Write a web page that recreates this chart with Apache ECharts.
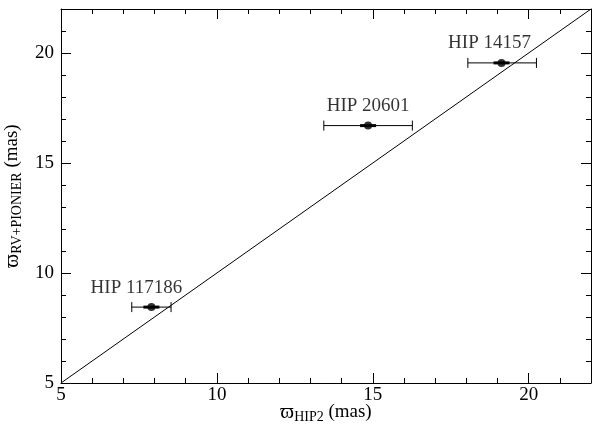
<!DOCTYPE html>
<html>
<head>
<meta charset="utf-8">
<script src="https://cdn.jsdelivr.net/npm/echarts@6/dist/echarts.min.js"></script>
<style>
  html, body { margin: 0; padding: 0; background: #fff; }
  #chart { width: 592px; height: 427px; }
</style>
</head>
<body>
<div id="chart"></div>
<script>
// star names and parallaxes (mas)
const stars = ['HIP 117186', 'HIP 20601', 'HIP 14157']
const plxHip = [7.9, 14.85, 19.13]
const plxHipLo = [7.27, 13.43, 18.05]
const plxHipHi = [8.53, 16.27, 20.25]
const plxOrbit = [8.45, 16.7, 19.55]
// one-to-one line
const diagonal = [[5, 5], [22, 22]]
const axisRange = [5, 22]

const font = '"Liberation Serif", "DejaVu Serif", serif'
// label nudges (style only)
const labelShift = [[-15, 0], [0, 0], [-12, 0]]

const chart = echarts.init(document.getElementById('chart'))

// builds one of the stacked axes: major ticks with labels, or minor ticks only
function makeAxis (dim, position, step, tickLen, labels, name) {
  const ax = {
    type: 'value',
    position: position,
    min: axisRange[0],
    max: axisRange[1],
    interval: step,
    splitLine: { show: false },
    axisLine: { show: labels || step === 5, onZero: false, lineStyle: { color: '#000', width: 1 } },
    axisTick: { show: true, inside: true, length: tickLen, lineStyle: { color: '#000', width: 1 } },
    axisLabel: {
      show: labels,
      color: '#000',
      fontFamily: font,
      fontSize: 19,
      margin: dim === 'x' ? 3 : 7,
      showMaxLabel: false
    }
  }
  if (name) {
    ax.name = name
    ax.nameLocation = 'middle'
    ax.nameMoveOverlap = false
    ax.nameGap = dim === 'x' ? 18 : 37
    ax.nameTextStyle = {
      color: '#000',
      fontFamily: font,
      fontSize: 19,
      rich: {
        w: { fontFamily: font, fontSize: 21, color: '#000' },
        s: { fontFamily: font, fontSize: 14, color: '#000', padding: [9, 0, 0, 0] },
        t: { fontFamily: font, fontSize: 19, color: '#000' }
      }
    }
  }
  return ax
}

const option = {
  backgroundColor: '#fff',
  animation: false,
  grid: { left: 61, right: 1, top: 9, bottom: 44, outerBoundsMode: 'none' },
  xAxis: [
    makeAxis('x', 'bottom', 5, 10, true, '{w|ϖ}{s|HIP2}{t| (mas)}'),
    makeAxis('x', 'bottom', 1, 5, false),
    makeAxis('x', 'top', 5, 10, false),
    makeAxis('x', 'top', 1, 5, false)
  ],
  yAxis: [
    makeAxis('y', 'left', 5, 10, true, '{w|ϖ}{s|RV+PIONIER}{t| (mas)}'),
    makeAxis('y', 'left', 1, 5, false),
    makeAxis('y', 'right', 5, 10, false),
    makeAxis('y', 'right', 1, 5, false)
  ],
  series: [
    {
      type: 'line',
      data: diagonal,
      symbol: 'none',
      lineStyle: { color: '#000', width: 1 },
      silent: true
    },
    {
      type: 'custom',
      data: stars.map((s, i) => [plxHip[i], plxOrbit[i], plxHipLo[i], plxHipHi[i]]),
      renderItem: function (params, api) {
        const y = api.value(1)
        const lo = api.coord([api.value(2), y])
        const hi = api.coord([api.value(3), y])
        const c = api.coord([api.value(0), y])
        const st = { stroke: '#000', lineWidth: 1 }
        return {
          type: 'group',
          children: [
            { type: 'line', shape: { x1: lo[0], y1: lo[1], x2: hi[0], y2: hi[1] }, style: st },
            { type: 'line', shape: { x1: lo[0], y1: lo[1] - 5, x2: lo[0], y2: lo[1] + 5 }, style: st },
            { type: 'line', shape: { x1: hi[0], y1: hi[1] - 5, x2: hi[0], y2: hi[1] + 5 }, style: st },
            { type: 'line', shape: { x1: c[0] - 8, y1: c[1], x2: c[0] + 8, y2: c[1] }, style: { stroke: '#000', lineWidth: 3 } }
          ]
        }
      },
      z: 3
    },
    {
      type: 'scatter',
      data: stars.map((s, i) => ({
        value: [plxHip[i], plxOrbit[i]],
        name: s,
        label: { offset: labelShift[i] }
      })),
      symbol: 'circle',
      symbolSize: 8,
      itemStyle: { color: '#000' },
      label: {
        show: true,
        position: 'top',
        distance: 6,
        formatter: '{b}',
        color: '#000',
        fontFamily: font,
        fontSize: 19
      },
      z: 4
    }
  ]
}

chart.setOption(option)
</script>
</body>
</html>
